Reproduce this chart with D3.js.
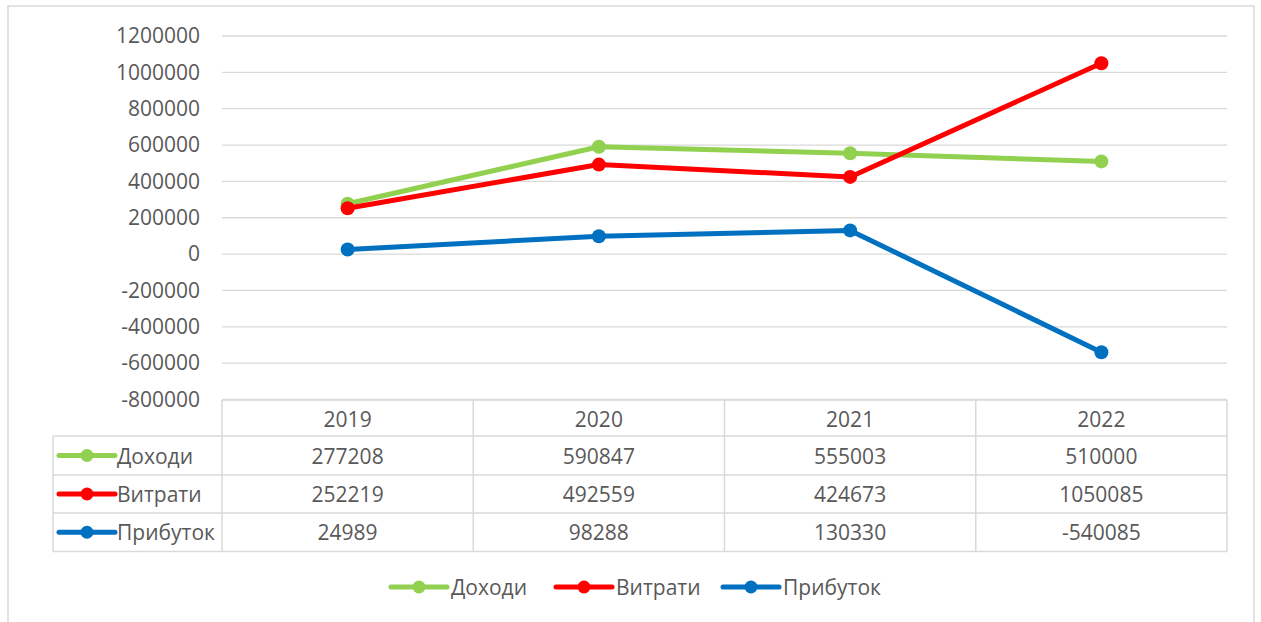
<!DOCTYPE html>
<html><head><meta charset="utf-8">
<script src="https://cdn.jsdelivr.net/npm/d3@7"></script>
<style>
html,body{margin:0;padding:0;background:#fff;overflow:hidden;}
svg{display:block;font-family:"Open Sans",sans-serif;}
</style></head>
<body>
<script>
const years = ["2019","2020","2021","2022"];
const seriesNames = ["Доходи","Витрати","Прибуток"];
const incomeValues = [277208,590847,555003,510000];
const expenseValues = [252219,492559,424673,1050085];
const profitValues = [24989,98288,130330,-540085];
const yTicks = [-800000,-600000,-400000,-200000,0,200000,400000,600000,800000,1000000,1200000];
const colors = ["#92D050","#FF0000","#0070C0"];

(function(){
const series = [incomeValues, expenseValues, profitValues].map((v,i)=>({name:seriesNames[i], values:v, color:colors[i]}));

const W=1261,H=622;
const svg = d3.select("body").append("svg").attr("width",W).attr("height",H);
const textColor="#595959", gridColor="#D9D9D9";
const fs=21;

// outer frame
svg.append("rect").attr("x",8).attr("y",6).attr("width",1246).attr("height",640)
  .attr("fill","none").attr("stroke",gridColor).attr("stroke-width",1.5);

const pLeft=222,pRight=1227,pTop=36,pBottom=399.5;
const x = d3.scaleBand().domain(years).range([pLeft,pRight]);
const y = d3.scaleLinear().domain([-800000,1200000]).range([pBottom,pTop]);

// grid
svg.append("g").selectAll("line").data(yTicks).join("line")
  .attr("x1",pLeft).attr("x2",pRight).attr("y1",d=>y(d)).attr("y2",d=>y(d))
  .attr("stroke",gridColor).attr("stroke-width",1.3);

// y axis labels
const yAxis = d3.axisLeft(y).tickValues(yTicks).tickSize(0).tickPadding(0).tickFormat(d=>String(d));
const ga = svg.append("g").attr("transform",`translate(200,0)`).call(yAxis);
ga.select(".domain").remove();
ga.selectAll("text").attr("fill",textColor).style("font-size",fs+"px").style("font-family","'Open Sans',sans-serif");

// table
const rowTop=[400,436,475,513,551.5];
const tbl = svg.append("g").attr("stroke",gridColor).attr("stroke-width",1.5).attr("fill","none");
tbl.append("line").attr("x1",pLeft).attr("x2",pRight).attr("y1",rowTop[0]).attr("y2",rowTop[0]);
for(let i=1;i<rowTop.length;i++){
  tbl.append("line").attr("x1",53).attr("x2",pRight).attr("y1",rowTop[i]).attr("y2",rowTop[i]);
}
tbl.append("line").attr("x1",53).attr("x2",53).attr("y1",rowTop[1]).attr("y2",rowTop[4]);
const vx=[pLeft, ...years.slice(1).map(d=>x(d)), pRight];
vx.forEach(v=>tbl.append("line").attr("x1",v).attr("x2",v).attr("y1",rowTop[0]).attr("y2",rowTop[4]));

// header
svg.append("g").selectAll("text").data(years).join("text")
  .attr("x",d=>x(d)+x.bandwidth()/2).attr("y",(rowTop[0]+rowTop[1])/2+1)
  .attr("text-anchor","middle").attr("dominant-baseline","central")
  .attr("fill",textColor).style("font-size",fs+"px").text(d=>d);

series.forEach((s,i)=>{
  const cy=(rowTop[i+1]+rowTop[i+2])/2;
  const g=svg.append("g");
  g.selectAll("text.v").data(s.values).join("text").attr("class","v")
    .attr("x",(d,j)=>x(years[j])+x.bandwidth()/2).attr("y",cy)
    .attr("text-anchor","middle").attr("dominant-baseline","central")
    .attr("fill",textColor).style("font-size",fs+"px").text(d=>String(d));
  g.append("line").attr("x1",59).attr("x2",115).attr("y1",cy).attr("y2",cy)
    .attr("stroke",s.color).attr("stroke-width",5).attr("stroke-linecap","round");
  g.append("circle").attr("cx",87).attr("cy",cy).attr("r",6.5).attr("fill",s.color);
  g.append("text").attr("x",117).attr("y",cy).attr("dominant-baseline","central")
    .attr("fill",textColor).style("font-size",fs+"px").text(s.name);
});

// lines
const line=d3.line().x((d,j)=>x(years[j])+x.bandwidth()/2).y(d=>y(d));
series.forEach(s=>{
  svg.append("path").datum(s.values).attr("d",line).attr("fill","none")
    .attr("stroke",s.color).attr("stroke-width",5).attr("stroke-linejoin","round").attr("stroke-linecap","round");
  svg.append("g").selectAll("circle").data(s.values).join("circle")
    .attr("cx",(d,j)=>x(years[j])+x.bandwidth()/2).attr("cy",d=>y(d)).attr("r",7).attr("fill",s.color);
});

// bottom legend
const legX=[391,556,723];
series.forEach((s,i)=>{
  const g=svg.append("g").attr("transform",`translate(${legX[i]},587)`);
  g.append("line").attr("x1",0).attr("x2",56).attr("stroke",s.color).attr("stroke-width",5).attr("stroke-linecap","round");
  g.append("circle").attr("cx",28).attr("r",6.5).attr("fill",s.color);
  g.append("text").attr("x",60).attr("dominant-baseline","central")
    .attr("fill",textColor).style("font-size",fs+"px").text(s.name);
});
})();
</script>
</body></html>
